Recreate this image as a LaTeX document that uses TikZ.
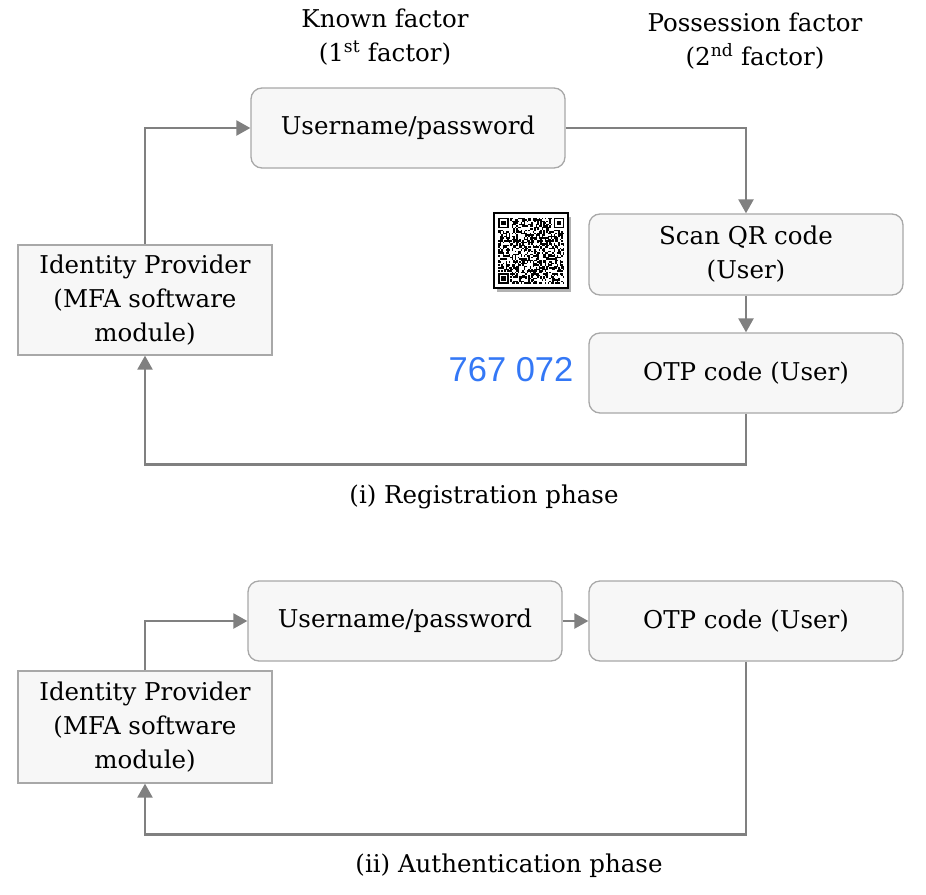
\documentclass[tikz,border=0pt]{standalone}
\usepackage{fontspec}
\setmainfont{DejaVu Serif}
\newfontfamily\otpfont{Liberation Sans}
\usetikzlibrary{positioning,arrows.meta}

\definecolor{boxfill}{HTML}{F7F7F7}
\definecolor{boxline}{HTML}{A8A8A8}
\definecolor{flowline}{HTML}{808080}
\definecolor{otpblue}{HTML}{3478F6}

\begin{document}
\begin{tikzpicture}[
    x=1pt, y=-1pt,
    font=\fontsize{24.5}{34}\selectfont,
    stepbox/.style={rectangle, draw=boxline, fill=boxfill, line width=1.3pt, minimum width=314pt, minimum height=80pt, align=center, rounded corners=11pt, inner sep=0pt},
    idpbox/.style={rectangle, draw=boxline, fill=boxfill, line width=1.3pt, minimum width=254pt, minimum height=110pt, align=center, inner sep=0pt},
    heading/.style={align=center, inner sep=0pt},
    arrow/.style={-{Triangle[length=14pt, width=15pt]}, draw=flowline, line width=2.4pt}
]
    \useasboundingbox (0,0) rectangle (926,894);

    % registration phase
    \node[heading] (known) at (385,37) {Known factor\\(1\textsuperscript{st} factor)};
    \node[heading] (poss) at (755,41) {Possession factor\\(2\textsuperscript{nd} factor)};

    \node[stepbox] (user1) at (408,128) {Username/password};
    \node[stepbox, minimum height=81pt] (scan) at (746,254.5) {Scan QR code\\(User)};
    \node[stepbox] (otp1) at (746,373) {OTP code (User)};
    \node[idpbox] (idp1) at (145,300) {Identity Provider\\(MFA software\\module)};

    \node[text=otpblue, font=\otpfont\fontsize{34.5}{36}\selectfont] (code) at (511,370) {767 072};

    % QR code picture
    \fill[black!30] (497,217) rectangle (571,292);
    \draw[line width=2pt, fill=white] (494,213) rectangle (568,288);
    \pgfmathsetseed{42}
    \foreach \i in {0,...,43} {
        \foreach \j in {0,...,43} {
            \pgfmathrandominteger{\q}{0}{1}
            \ifnum\q=1 \fill (498+1.5*\i,217.5+1.5*\j) rectangle ++(1.5,1.5); \fi
        }
    }
    \foreach \fx/\fy in {498/217.5, 553.5/217.5, 498/273} {
        \fill[white] (\fx-1.5,\fy-1.5) rectangle ++(13.5,13.5);
        \fill (\fx,\fy) rectangle ++(10.5,10.5);
        \fill[white] (\fx+1.5,\fy+1.5) rectangle ++(7.5,7.5);
        \fill (\fx+3,\fy+3) rectangle ++(4.5,4.5);
    }

    \draw[arrow] (idp1.north) |- (user1.west);
    \draw[arrow] (user1.east) -| (scan.north);
    \draw[arrow] (scan.south) -- (otp1.north);
    \draw[arrow] (otp1.south) -- ++(0,51) -| (idp1.south);

    \node (regcap) at (484,497) {(i) Registration phase};

    % authentication phase
    \node[stepbox] (user2) at (405,621) {Username/password};
    \node[stepbox] (otp2) at (746,621) {OTP code (User)};
    \node[idpbox, minimum height=112pt] (idp2) at (145,727) {Identity Provider\\(MFA software\\module)};

    \draw[arrow] (idp2.north) |- (user2.west);
    \draw[arrow] (user2.east) -- (otp2.west);
    \draw[arrow] (otp2.south) -- ++(0,173) -| (idp2.south);

    \node (authcap) at (509,866) {(ii) Authentication phase};
\end{tikzpicture}
\end{document}
